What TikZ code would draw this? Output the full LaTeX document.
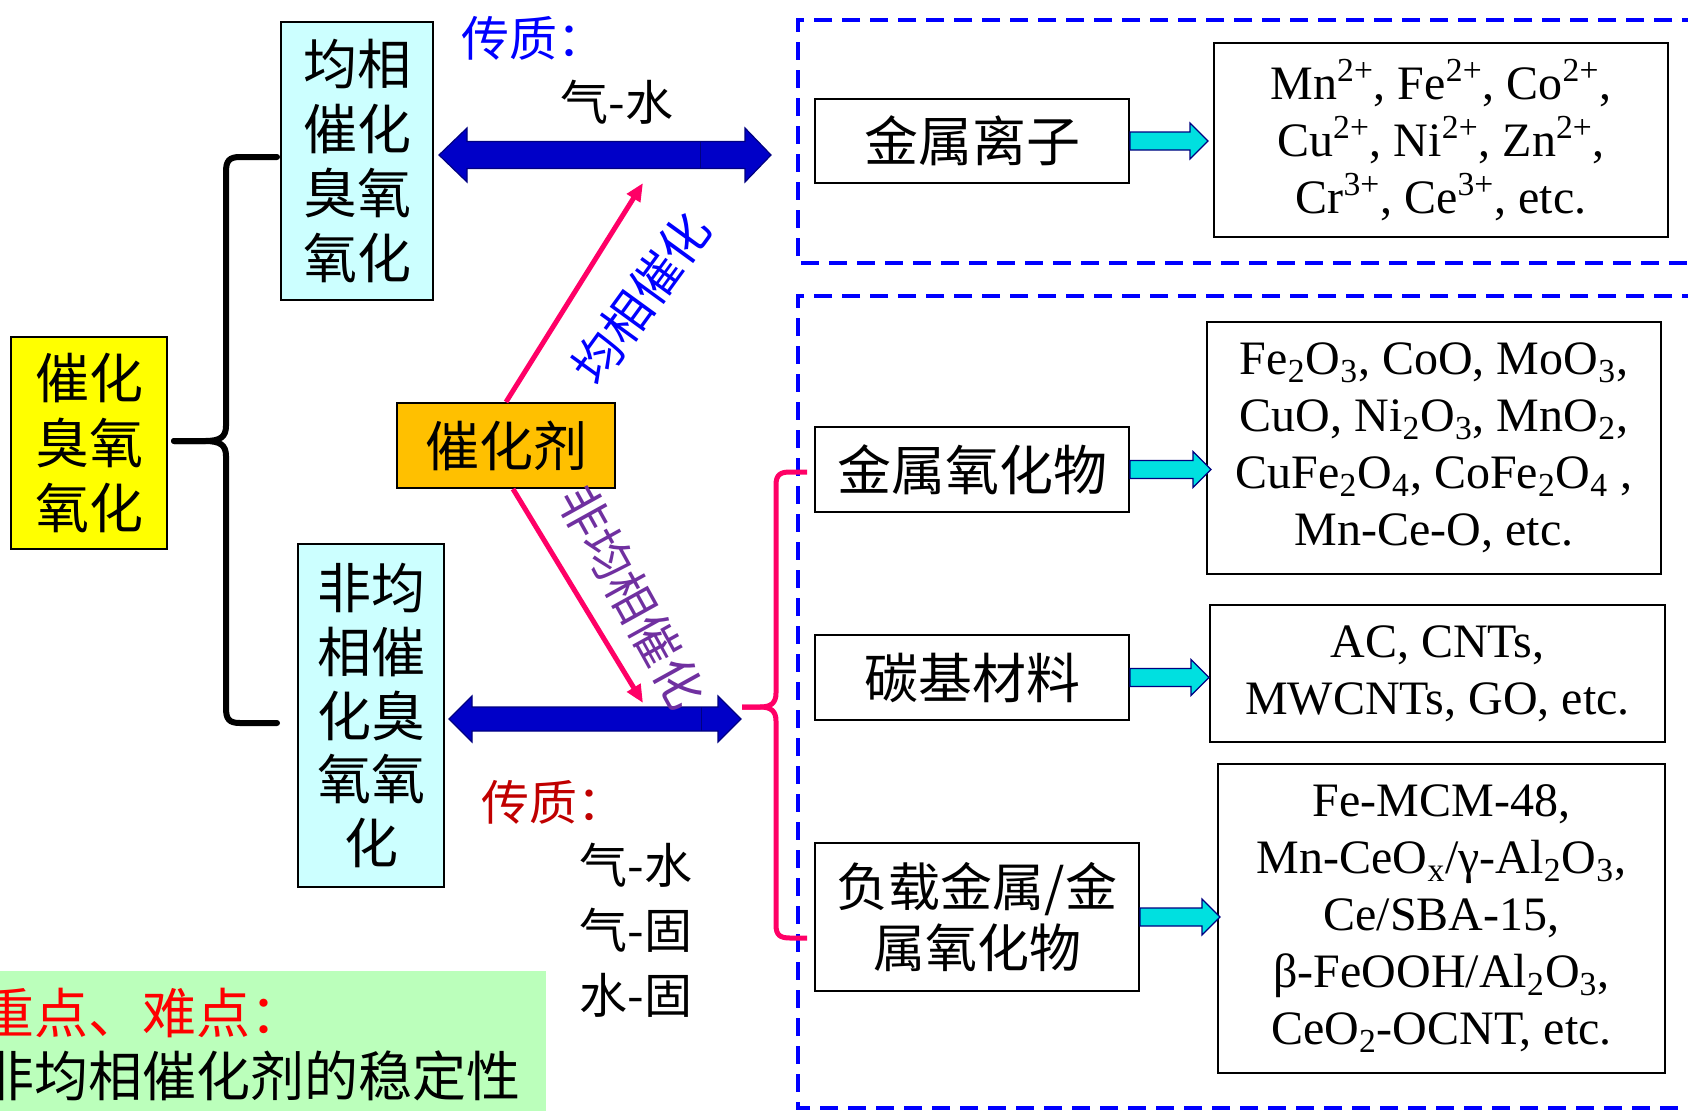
\documentclass[tikz,border=0pt]{standalone}
\usepackage{fontspec}
\setmainfont{Liberation Serif}
\newfontfamily\cjk{Noto Sans CJK SC}
\usetikzlibrary{arrows.meta}
\definecolor{boxcyan}{HTML}{CCFFFF}
\definecolor{boxyellow}{HTML}{FFFF00}
\definecolor{boxorange}{HTML}{FFC000}
\definecolor{darkblue}{HTML}{0000C8}
\definecolor{navyline}{HTML}{000080}
\definecolor{arrowcyan}{HTML}{00E0E0}
\definecolor{hotpink}{HTML}{FF0066}
\definecolor{dashblue}{HTML}{0000FF}
\definecolor{labpurple}{HTML}{7030A0}
\definecolor{darkred}{HTML}{C00000}
\definecolor{keygreen}{HTML}{BBFFBB}
\newcommand{\chsup}[1]{\textsuperscript{#1}}
\newcommand{\chsub}[1]{\textsubscript{#1}}
\newcommand{\cyarrow}[2]{%
  \filldraw[fill=arrowcyan, draw=navyline, line width=0.6pt]
    (#1) ++(0,-9) -- ++(#2,0) -- ++(0,-9) -- ++(18,18) -- ++(-18,18)
    -- ++(0,-9) -- ++(-#2,0) -- cycle;}
\begin{document}
\begin{tikzpicture}[x=0.5pt,y=-0.5pt,
  box/.style={draw=black, line width=1pt, inner sep=0pt, align=center},
  cjkbig/.style={font=\cjk\fontsize{27}{32.3}\selectfont},
  cjkmid/.style={font=\cjk\fontsize{24}{32.5}\selectfont},
  cjklab/.style={font=\cjk\fontsize{24.5}{30}\selectfont},
  chem/.style={font=\fontsize{24}{28.5}\selectfont},
  dashframe/.style={draw=dashblue, line width=1.7pt, dash pattern=on 9pt off 5pt},
  pinkarrow/.style={draw=hotpink, line width=2.5pt, -{Triangle[length=9pt,width=7.5pt]}},
  bigarrow/.style={fill=darkblue, draw=navyline, line width=0.6pt}]
\useasboundingbox (0,0) rectangle (1688,1110);
\clip (0,0) rectangle (1688,1110);

% dashed frames
\draw[dashframe] (1700,20) -- (798,20) -- (798,263) -- (1700,263);
\draw[dashframe] (1700,296) -- (798,296) -- (798,1108) -- (1700,1108);

% green key box
\fill[keygreen] (0,971) rectangle (546,1115);
\node[cjkbig, anchor=west, inner sep=0pt, text=red] (key) at (-20,1013) {重点、难点：};
\node[cjkbig, anchor=west, inner sep=0pt] (stab) at (-20,1076) {非均相催化剂的稳定性};

% black brace
\draw[line width=3pt, line cap=round] (277,157) -- (240,157) .. controls (229,157) and (226,161) .. (226,172)
  -- (226,426) .. controls (226,437) and (220,441) .. (205,441) -- (174,441);
\draw[line width=3pt, line cap=round] (174,441) -- (205,441) .. controls (220,441) and (226,445) .. (226,456)
  -- (226,708) .. controls (226,719) and (229,723) .. (240,723) -- (277,723);

% pink brace
\draw[hotpink, line width=2.5pt] (807,472) -- (790,472) .. controls (780,472) and (776,475) .. (776,485)
  -- (776,693) .. controls (776,703) and (771,707) .. (760,707) -- (742,707);
\draw[hotpink, line width=2.5pt] (742,707) -- (760,707) .. controls (771,707) and (776,711) .. (776,721)
  -- (776,925) .. controls (776,935) and (780,938) .. (790,938) -- (807,938);

% nodes
\node[box, fill=boxyellow, cjkbig, minimum width=78pt, minimum height=106pt] (cat0) at (89,443)
  {催化\\臭氧\\氧化};
\node[box, fill=boxcyan, cjkbig, minimum width=76pt, minimum height=139pt] (homo) at (357,161)
  {均相\\催化\\臭氧\\氧化};
\node[box, fill=boxcyan, font=\cjk\fontsize{27}{31.8}\selectfont, minimum width=73pt, minimum height=171.5pt] (hetero) at (371,715.5)
  {非均\\相催\\化臭\\氧氧\\化};
\node[box, fill=boxorange, cjkbig, minimum width=109pt, minimum height=42.5pt] (cat) at (506,445.5) {催化剂};

\node[box, cjkbig, minimum width=157pt, minimum height=42pt] (ion) at (972,141) {金属离子};
\node[box, chem, minimum width=227pt, minimum height=97pt] (ionlist) at (1441,140)
  {Mn\chsup{2+}, Fe\chsup{2+}, Co\chsup{2+},\\Cu\chsup{2+}, Ni\chsup{2+}, Zn\chsup{2+},\\Cr\chsup{3+}, Ce\chsup{3+}, etc.};
\node[box, cjkbig, minimum width=157pt, minimum height=42.5pt] (oxide) at (972,469.5) {金属氧化物};
\node[box, chem, minimum width=227pt, minimum height=126pt] (oxlist) at (1434,448)
  {Fe\chsub{2}O\chsub{3}, CoO, MoO\chsub{3},\\CuO, Ni\chsub{2}O\chsub{3}, MnO\chsub{2},\\CuFe\chsub{2}O\chsub{4}, CoFe\chsub{2}O\chsub{4} ,\\Mn-Ce-O, etc.};
\node[box, cjkbig, minimum width=157pt, minimum height=42.5pt] (carbon) at (972,677.5) {碳基材料};
\node[box, chem, minimum width=227.5pt, minimum height=68.5pt] (clist) at (1437.5,673.5)
  {AC, CNTs,\\MWCNTs, GO, etc.};
\node[box, font=\cjk\fontsize{26}{30.5}\selectfont, minimum width=162pt, minimum height=74pt] (supp) at (977,917)
  {负载金属/金\\属氧化物};
\node[box, chem, minimum width=223.5pt, minimum height=154.5pt] (slist) at (1441.5,918.5)
  {Fe-MCM-48,\\Mn-CeO\chsub{x}/γ-Al\chsub{2}O\chsub{3},\\Ce/SBA-15,\\β-FeOOH/Al\chsub{2}O\chsub{3},\\CeO\chsub{2}-OCNT, etc.};

% cyan block arrows
\cyarrow{ion.east}{60}
\cyarrow{oxide.east}{63}
\cyarrow{carbon.east}{61}
\cyarrow{supp.east}{62}

% blue double arrows
\coordinate (tL) at (439,155);
\coordinate (tR) at (771,155);
\filldraw[bigarrow] (tL) -- (467,128) -- (467,141.5) -- (745,141.5) -- (745,128) -- (tR)
  -- (745,182) -- (745,168.5) -- (467,168.5) -- (467,182) -- cycle;
\draw[navyline, line width=0.5pt] (700,141.5) -- (700,168.5);
\coordinate (bL) at (449,719);
\coordinate (bR) at (741,719);
\filldraw[bigarrow] (bL) -- (472,696) -- (472,707) -- (718,707) -- (718,696) -- (bR)
  -- (718,742) -- (718,731) -- (472,731) -- (472,742) -- cycle;
\draw[navyline, line width=0.5pt] (701,707) -- (701,731);

% pink arrows
\coordinate (upTip) at (643,183);
\coordinate (downTip) at (643,703);
\draw[pinkarrow] (cat.north) -- (upTip);
\draw[pinkarrow] ([xshift=3.5pt]cat.south) -- (downTip);

% labels
\node[cjkmid, text=dashblue, anchor=west, inner sep=0pt] (mt1) at (461,38) {传质：};
\node[cjkmid, inner sep=0pt] (gw1) at (617,102) {气-水};
\node[cjkmid, text=darkred, anchor=west, inner sep=0pt] (mt2) at (481,802) {传质：};
\node[cjkmid, anchor=west, align=left, inner sep=0pt] (gw2) at (579,930) {气-水\\气-固\\水-固};
\node[cjklab, text=dashblue, rotate=54, inner sep=0pt] (homolab) at (641,298) {均相催化};
\node[cjklab, text=labpurple, rotate=-61, inner sep=0pt] (heterolab) at (632,597) {非均相催化};
\end{tikzpicture}
\end{document}
